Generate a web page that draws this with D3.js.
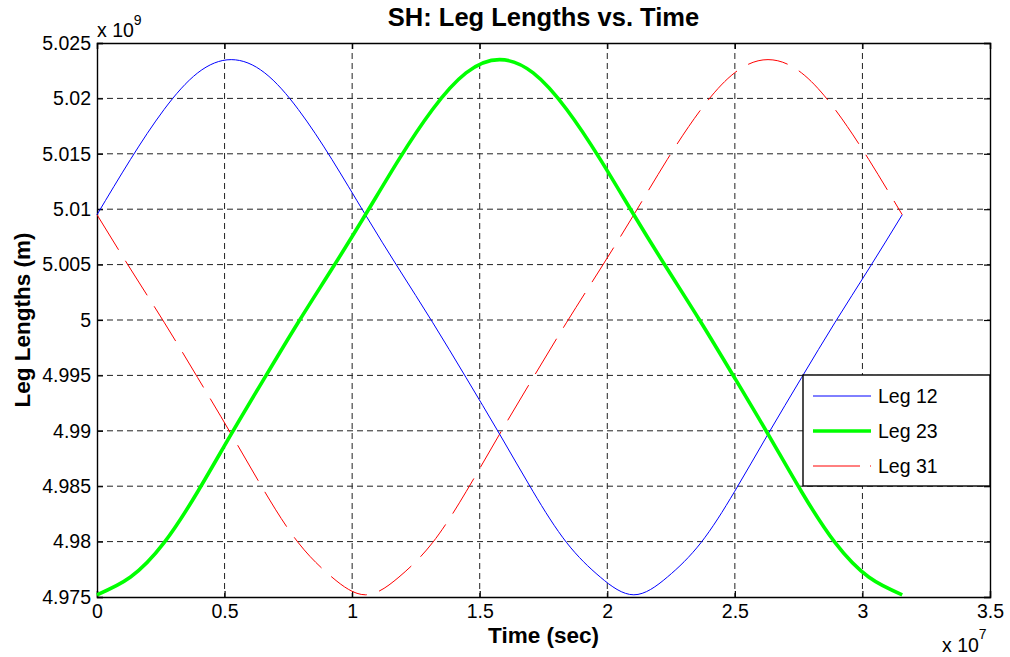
<!DOCTYPE html>
<html><head><meta charset="utf-8">
<script src="https://cdn.jsdelivr.net/npm/d3@7"></script>
<style>body{margin:0;background:#fff;} text{font-family:"Liberation Sans",Arial,sans-serif;}</style>
</head><body>
<svg id="c" width="1010" height="657"></svg>
<script>
// time in units of 1e7 sec
const time = [0, 0.1315, 0.263, 0.3945, 0.526, 0.6575, 0.789, 0.9205, 1.052, 1.1835, 1.315, 1.4465, 1.578, 1.7095, 1.841, 1.9725, 2.104, 2.2355, 2.367, 2.4985, 2.63, 2.7615, 2.893, 3.0245, 3.156];
// leg lengths in units of 1e9 m
const leg12 = [5.0095, 5.0145, 5.0190, 5.0223, 5.0235, 5.0223, 5.0190, 5.0145, 5.0095, 5.0046, 4.9998, 4.9948, 4.9897, 4.9845, 4.9799, 4.9768, 4.9752, 4.9768, 4.9799, 4.9845, 4.9897, 4.9948, 4.9998, 5.0046, 5.0095];
const leg23 = [4.9752, 4.9768, 4.9799, 4.9845, 4.9897, 4.9948, 4.9998, 5.0046, 5.0095, 5.0145, 5.0190, 5.0223, 5.0235, 5.0223, 5.0190, 5.0145, 5.0095, 5.0046, 4.9998, 4.9948, 4.9897, 4.9845, 4.9799, 4.9768, 4.9752];
const leg31 = [5.0095, 5.0046, 4.9998, 4.9948, 4.9897, 4.9845, 4.9799, 4.9768, 4.9752, 4.9768, 4.9799, 4.9845, 4.9897, 4.9948, 4.9998, 5.0046, 5.0095, 5.0145, 5.0190, 5.0223, 5.0235, 5.0223, 5.0190, 5.0145, 5.0095];
const seriesNames = ["Leg 12", "Leg 23", "Leg 31"];
const xTicks = [0, 0.5, 1, 1.5, 2, 2.5, 3, 3.5];
const yTicks = [4.975, 4.98, 4.985, 4.99, 4.995, 5, 5.005, 5.01, 5.015, 5.02, 5.025];
const xTickLabels = ["0", "0.5", "1", "1.5", "2", "2.5", "3", "3.5"];
const yTickLabels = ["4.975", "4.98", "4.985", "4.99", "4.995", "5", "5.005", "5.01", "5.015", "5.02", "5.025"];

const svg = d3.select("#c");
const L = 97, R = 990, T = 43, B = 597;
const x = d3.scaleLinear().domain([0, 3.5]).range([L, R]);
const y = d3.scaleLinear().domain([4.975, 5.025]).range([B, T]);

svg.append("rect").attr("width", 1010).attr("height", 657).attr("fill", "#fff");

// grid
const g = svg.append("g");
g.selectAll(".vg").data(xTicks.slice(1, -1)).enter().append("line")
  .attr("x1", d => x(d)).attr("x2", d => x(d)).attr("y1", T).attr("y2", B)
  .attr("stroke", "#222").attr("stroke-width", 1).attr("stroke-dasharray", "6,4");
g.selectAll(".hg").data(yTicks.slice(1, -1)).enter().append("line")
  .attr("y1", d => y(d)).attr("y2", d => y(d)).attr("x1", L).attr("x2", R)
  .attr("stroke", "#222").attr("stroke-width", 1).attr("stroke-dasharray", "6,4");

// axes with inward ticks
const xAxisB = d3.axisBottom(x).tickValues(xTicks).tickSize(-6).tickPadding(7).tickFormat((d, i) => xTickLabels[i]);
const xAxisT = d3.axisTop(x).tickValues(xTicks).tickSize(-6).tickFormat("");
const yAxisL = d3.axisLeft(y).tickValues(yTicks).tickSize(-6).tickPadding(6).tickFormat((d, i) => yTickLabels[i]);
const yAxisR = d3.axisRight(y).tickValues(yTicks).tickSize(-6).tickFormat("");
function style(sel) {
  sel.select(".domain").attr("stroke", "#000").attr("stroke-width", 1.4);
  sel.selectAll(".tick line").attr("stroke", "#000").attr("stroke-width", 1.2);
  sel.selectAll(".tick text").attr("fill", "#000").style("font-size", "19.5px").style("font-family", "'Liberation Sans',Arial,sans-serif");
}
svg.append("g").attr("transform", `translate(0,${B})`).call(xAxisB).call(style);
svg.append("g").attr("transform", `translate(0,${T})`).call(xAxisT).call(style);
svg.append("g").attr("transform", `translate(${L},0)`).call(yAxisL).call(style);
svg.append("g").attr("transform", `translate(${R},0)`).call(yAxisR).call(style);

// lines
const line = d3.line().x(d => x(d[0])).y(d => y(d[1])).curve(d3.curveNatural);
const mk = arr => time.map((t, i) => [t, arr[i]]);
svg.append("path").attr("d", line(mk(leg31))).attr("fill", "none").attr("stroke", "#ff0000").attr("stroke-width", 1).attr("stroke-dasharray", "41,13");
svg.append("path").attr("d", line(mk(leg12))).attr("fill", "none").attr("stroke", "#0000ff").attr("stroke-width", 1);
svg.append("path").attr("d", line(mk(leg23))).attr("fill", "none").attr("stroke", "#00ff00").attr("stroke-width", 3.6);

// exponent labels
const ex = svg.append("text").attr("x", 97).attr("y", 37).style("font-size", "19.5px");
ex.append("tspan").text("x 10");
ex.append("tspan").attr("dy", -12).style("font-size", "14px").text("9");
const ex2 = svg.append("text").attr("x", 942).attr("y", 652).style("font-size", "19.5px");
ex2.append("tspan").text("x 10");
ex2.append("tspan").attr("dy", -13).style("font-size", "14px").text("7");

// title & labels
svg.append("text").attr("x", (L + R) / 2).attr("y", 26).attr("text-anchor", "middle")
  .style("font-size", "25.5px").style("font-weight", "bold").text("SH: Leg Lengths vs. Time");
svg.append("text").attr("x", (L + R) / 2).attr("y", 643).attr("text-anchor", "middle")
  .style("font-size", "22.5px").style("font-weight", "bold").text("Time (sec)");
svg.append("text").attr("transform", `translate(30,${(T + B) / 2}) rotate(-90)`).attr("text-anchor", "middle")
  .style("font-size", "22.5px").style("font-weight", "bold").text("Leg Lengths (m)");

// legend
const lg = svg.append("g");
lg.append("rect").attr("x", 803).attr("y", 375).attr("width", 187).attr("height", 111)
  .attr("fill", "#fff").attr("stroke", "#000").attr("stroke-width", 1.4);
const colors = ["#0000ff", "#00ff00", "#ff0000"];
const widths = [1, 3.6, 1];
const dashes = [null, null, "47,10"];
seriesNames.forEach((n, i) => {
  const yy = 396 + i * 35;
  lg.append("line").attr("x1", 813).attr("x2", 871).attr("y1", yy).attr("y2", yy)
    .attr("stroke", colors[i]).attr("stroke-width", widths[i]).attr("stroke-dasharray", dashes[i]);
  lg.append("text").attr("x", 878).attr("y", yy + 7).style("font-size", "19.5px").text(n);
});
</script>
</body></html>
